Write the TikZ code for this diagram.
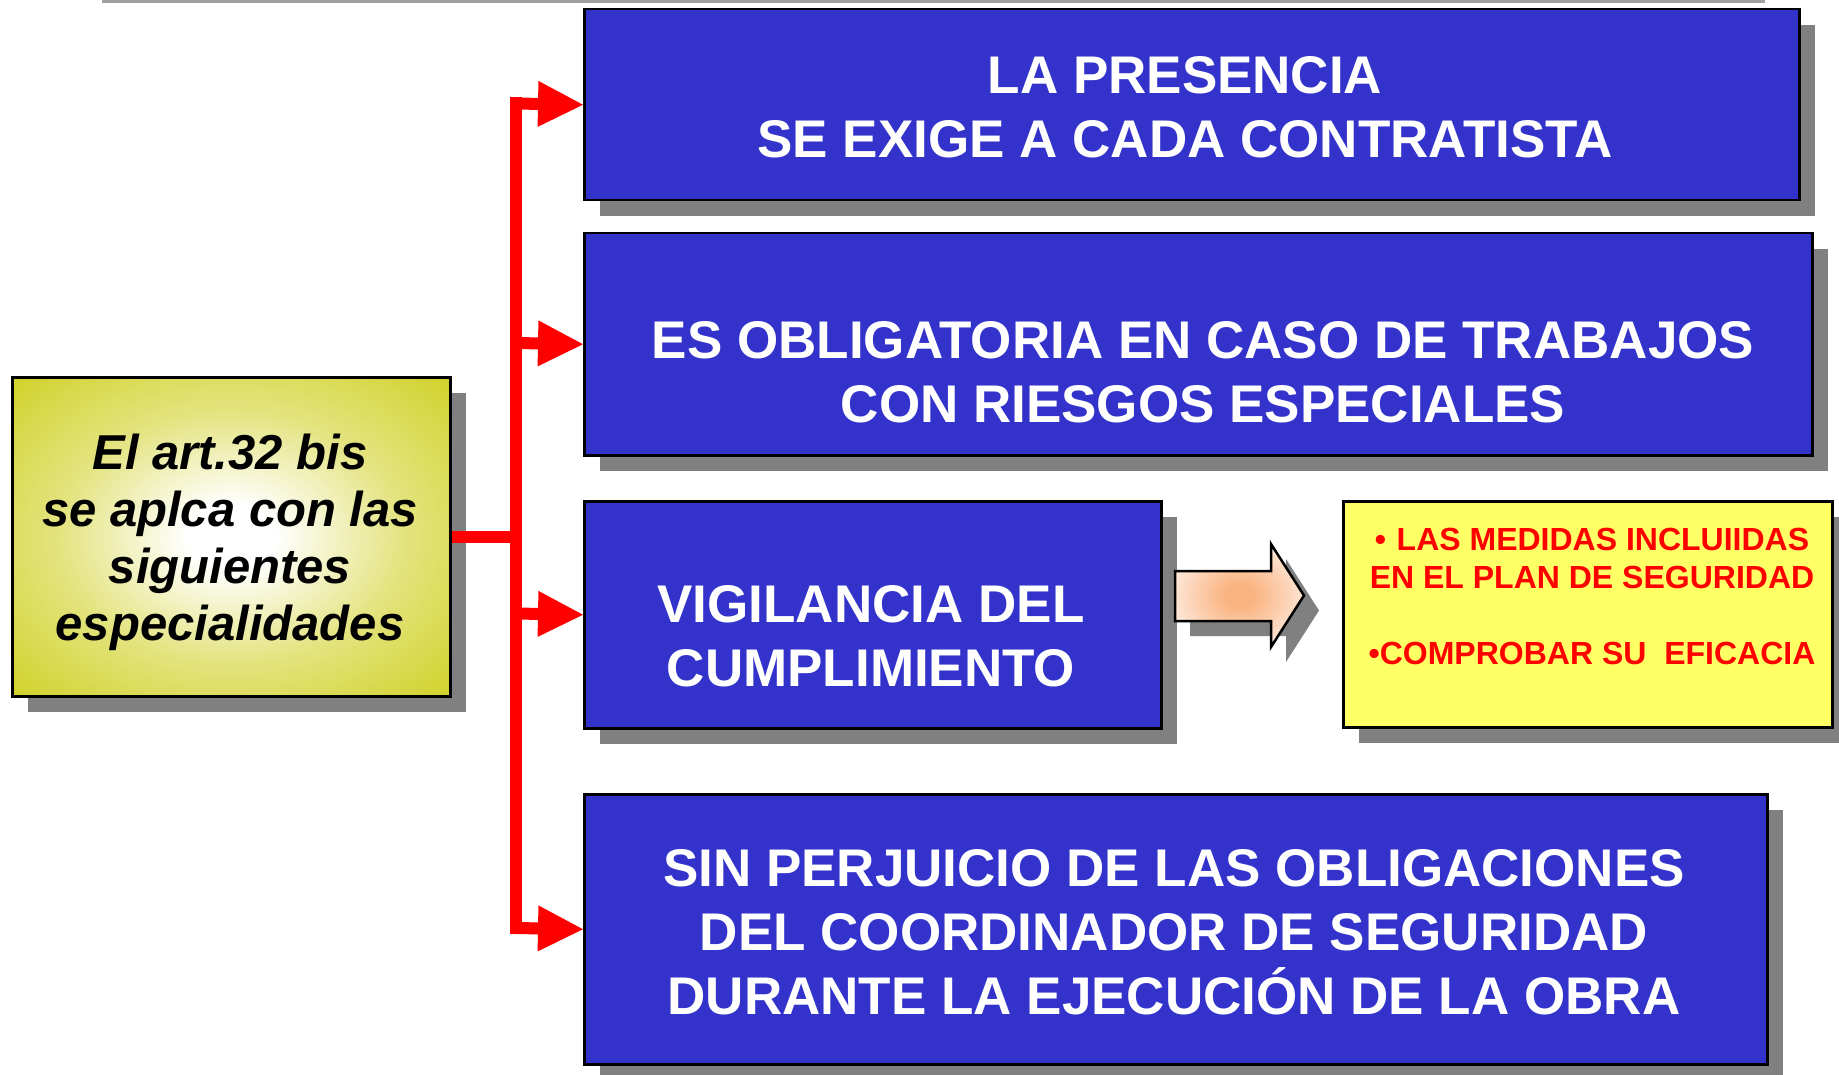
\documentclass[tikz,border=0pt]{standalone}
\usepackage{fontspec}
\setmainfont{Liberation Sans}
\usetikzlibrary{arrows.meta,shadows}
\definecolor{bluefill}{RGB}{51,51,204}
\definecolor{yellowfill}{RGB}{255,255,102}
\definecolor{shadowgray}{RGB}{128,128,128}
\definecolor{olivey}{RGB}{204,204,18}
\definecolor{peach}{RGB}{250,180,130}
\definecolor{topgray}{RGB}{160,160,160}
\definecolor{conred}{RGB}{255,0,0}
\pgfdeclareradialshading{olivesh}{\pgfpoint{0bp}{0bp}}{color(0bp)=(white); color(5bp)=(white); color(20bp)=(olivey!55!white); color(40bp)=(olivey); color(100bp)=(olivey)}
\pgfdeclareradialshading{peachsh}{\pgfpoint{0bp}{0bp}}{color(0bp)=(peach); color(6bp)=(peach); color(36bp)=(white); color(100bp)=(white)}
\tikzset{
  boxbase/.style={draw=black, line width=2.5pt, anchor=north west, inner sep=0pt,
    drop shadow={shadow xshift=16pt, shadow yshift=-16pt, fill=shadowgray, opacity=1}},
  bluebox/.style={boxbase, fill=bluefill},
  yellowbox/.style={boxbase, fill=yellowfill},
  olivebox/.style={boxbase, shading=olivesh},
  bluetext/.style={text=white, font=\bfseries\fontsize{53}{64}\selectfont, align=center, inner sep=0pt},
  lefttext/.style={text=black, font=\bfseries\itshape\fontsize{49}{57}\selectfont, align=center, inner sep=0pt},
  redtext/.style={text=conred, font=\bfseries\fontsize{32}{38}\selectfont, align=center, inner sep=0pt},
  redline/.style={draw=conred, line width=12pt},
  redarrow/.style={redline, -{Triangle[length=45pt, width=46pt, line width=0pt]}},
  blockarrow/.style={draw=black, line width=2.5pt, shading=peachsh,
    drop shadow={shadow xshift=15pt, shadow yshift=-15pt, fill=shadowgray, opacity=1}}
}
\begin{document}
\begin{tikzpicture}[x=1pt, y=-1pt]
\useasboundingbox (0,0) rectangle (1839,1075);
% top rule
\draw[topgray, line width=3pt] (102,1.5) -- (1765,1.5);
% boxes
\node[olivebox, minimum width=438pt, minimum height=319pt] (left) at (11,376) {};
\node[bluebox, minimum width=1215pt, minimum height=191pt] (b1) at (583,8) {};
\node[bluebox, minimum width=1228pt, minimum height=222pt] (b2) at (583,232) {};
\node[bluebox, minimum width=577pt, minimum height=227pt] (b3) at (583,500) {};
\node[bluebox, minimum width=1183pt, minimum height=270pt] (b4) at (583,793) {};
\node[yellowbox, minimum width=489pt, minimum height=226pt] (yb) at (1342,500) {};
% block arrow
\path[blockarrow] (1175,571) -- (1271,571) -- (1271,544) -- (1304,595.5) -- (1271,647) -- (1271,621) -- (1175,621) -- cycle;
% texts
\node[lefttext] (lt) at (230,542) {El art.32 bis\\se aplca con las\\siguientes\\especialidades};
\node[bluetext] (t1) at (1185,107) {LA PRESENCIA\\SE EXIGE A CADA CONTRATISTA};
\node[bluetext] (t2) at (1203,372.5) {ES OBLIGATORIA EN CASO DE TRABAJOS\\CON RIESGOS ESPECIALES};
\node[bluetext] (t3) at (871,636.5) {VIGILANCIA DEL\\CUMPLIMIENTO};
\node[bluetext] (t4) at (1174,932.5) {SIN PERJUICIO DE LAS OBLIGACIONES\\DEL COORDINADOR DE SEGURIDAD\\DURANTE LA EJECUCIÓN DE LA OBRA};
\node[redtext] (yt) at (1592,596.5) {•\,\,LAS MEDIDAS INCLUIIDAS\\EN EL PLAN DE SEGURIDAD\\[38pt]•COMPROBAR SU~~EFICACIA};
% connectors
\coordinate (j1) at (516,103.5);
\coordinate (j2) at (516,343);
\coordinate (j3) at (516,613.5);
\coordinate (j4) at (516,928);
\draw[redline] ([yshift=6pt]j1) -- ([yshift=-6pt]j4);
\draw[redline] (left.east) -- (left.east -| j1);
\draw[redarrow] (j1) -- (b1.west);
\draw[redarrow] (j2) -- (b2.west);
\draw[redarrow] (j3) -- (b3.west);
\draw[redarrow] (j4) -- (b4.west);
\end{tikzpicture}
\end{document}
